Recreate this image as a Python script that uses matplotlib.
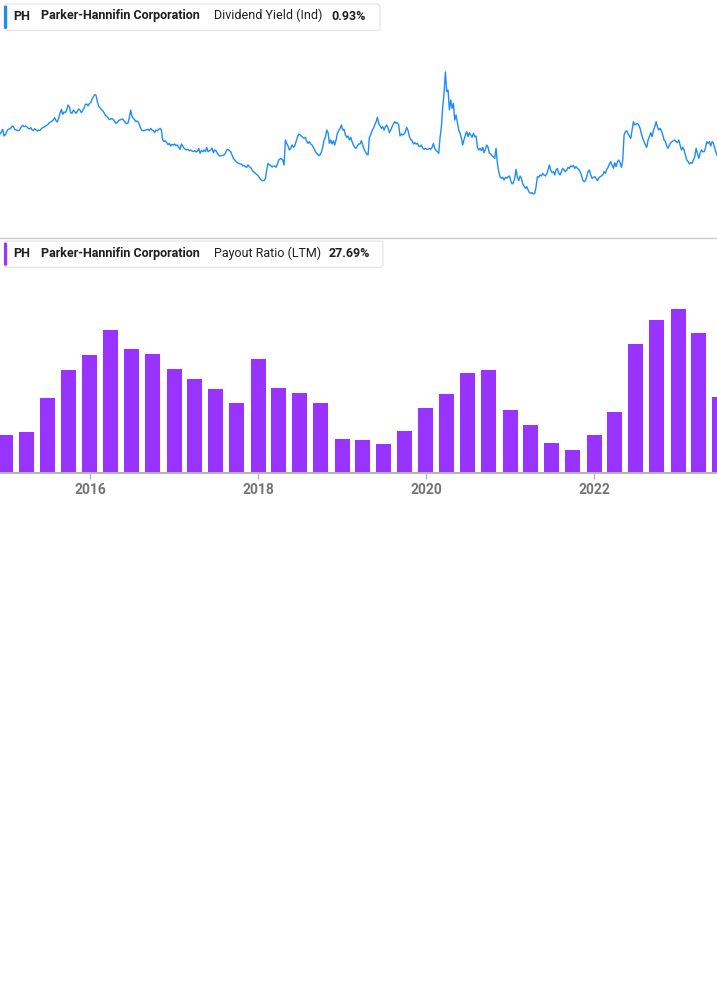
import matplotlib
matplotlib.use("Agg")
import matplotlib.pyplot as plt
import numpy as np
import pandas as pd
from matplotlib.patches import FancyBboxPatch
from matplotlib.lines import Line2D
from matplotlib.transforms import IdentityTransform

plt.rcParams['font.family'] = ['Roboto', 'DejaVu Sans']

# ---------------- data ----------------
ticker = "PH"
company = "Parker-Hannifin Corporation"
metric_top = "Dividend Yield (Ind)"
latest_top = "0.93%"
metric_bottom = "Payout Ratio (LTM)"
latest_bottom = "27.69%"

# quarterly payout ratio (%), quarters starting 2015-01-01
payout_start = "2015-01-01"
payout_ratio = [26.5, 27.0, 32.9, 37.6, 40.3, 44.5, 41.3, 40.5, 37.8, 36.1,
                34.4, 32.1, 39.6, 34.6, 33.7, 32.0, 25.8, 25.6, 24.9, 27.2,
                31.2, 33.6, 37.1, 37.6, 30.9, 28.3, 25.1, 24.0, 26.5, 30.4,
                42.2, 46.2, 48.2, 44.0, 33.0]

# dividend yield in basis points, sampled about every 5.8 days from 2014-12-06
yield_start = "2014-12-06"
yield_step_days = 5.798
yield_bp = [
    199, 202, 206, 196, 198, 202.5, 206, 206.5, 207.5, 211,
    210, 206, 205, 204.5, 204, 206, 210, 212, 210, 211,
    210, 208, 206.5, 208.5, 205.5, 204, 207, 205, 203.5, 205,
    204, 207, 208.5, 209.5, 210.5, 212, 213.5, 216, 217, 218.5,
    220, 223.5, 219, 217, 222.5, 230, 236, 228.5, 232, 231,
    235, 242.5, 240, 231, 230, 235, 232.5, 230, 233, 236.5,
    235, 231, 234, 238, 243, 244, 241, 244.5, 246, 251,
    255, 258, 257, 247.5, 240.5, 238.5, 235.5, 234, 231, 227,
    225.5, 223.5, 220.5, 221.5, 222, 220.5, 218, 215, 216, 219.5,
    220, 221, 221.5, 218.5, 216, 214.5, 215.5, 224, 235, 225,
    222.5, 220, 217.5, 218.5, 216, 210, 205, 204, 204, 205,
    205, 206, 204, 207.5, 205, 204, 201, 205, 204, 206,
    207.5, 205, 190, 187.5, 189, 186, 183, 185, 181, 183.5,
    182.5, 184, 181.5, 182.5, 179, 176,
    184, 181, 177.5, 176, 175, 176, 174, 175, 173.5, 172.5,
    174, 172, 173, 177.5, 170, 174, 172.5, 175, 172.5, 179,
    172.5, 174, 175, 178, 171, 175, 174, 170, 167.5, 166,
    166.5, 167, 167.5, 170, 175, 176, 174, 172.5, 167.5, 162.5,
    160, 157.5, 156, 155, 154, 154, 151, 152, 150, 149,
    152.5, 150, 148.5, 145, 142.5, 141, 139, 137.5, 135, 132,
    130, 129, 129, 132, 145, 155, 152.5, 152, 149.5, 151,
    151, 149, 154, 160, 161.5, 162, 160, 152.5, 190, 185,
    181, 175, 177.5, 182.5, 179, 181, 187.5, 194, 199, 197.5,
    196, 194, 192.5, 194, 188, 185, 187.5, 184, 182.5, 179,
    175, 171, 169, 166.5, 168, 172, 179, 190, 194, 205,
    201, 185, 190, 184, 189, 182.5, 190, 200, 204, 207.5,
    212.5, 205, 206, 197.5, 194, 196, 190, 194, 187.5, 182.5,
    179, 177.5, 181, 184,
    184, 189, 182.5, 176, 172.5, 169, 167.5, 194, 197.5, 204,
    207.5, 212.5, 217, 224, 215, 211, 207.5, 210, 205, 210,
    212.5, 207.5, 201, 205, 210, 214, 217.5, 215, 216, 212.5,
    196, 199, 197.5, 199, 202.5, 209, 204, 195, 191, 189,
    184, 186, 184, 185, 181, 180, 182.5, 177.5, 176, 177.5,
    176, 176, 177.5, 176, 179, 185, 177.5, 174, 172.5, 170,
    194, 210, 240, 260, 292, 262.5, 265, 235, 250, 237.5,
    245, 220, 227.5, 216, 205, 200, 192.5, 182.5, 191, 197.5,
    202.5, 195, 201, 197.5, 194, 200, 195, 196, 179, 175,
    177.5, 174, 179, 171, 176, 182.5, 179, 170, 169, 166,
    165, 162.5, 177.5, 155, 142.5, 135, 132.5, 134, 130, 134,
    132.5, 135, 136, 129, 124, 126, 132.5, 146, 134, 129,
    136, 132.5, 124, 121, 117.5, 120, 115, 111, 110, 111,
    109, 110, 120,
    135, 134, 137.5, 136, 140, 137.5, 136, 139, 145, 152.5,
    145, 141, 142.5, 137.5, 145, 147.5, 140, 137.5, 142.5, 147.5,
    145, 142.5, 145, 149, 147.5, 151, 150, 152, 147.5, 150,
    147.5, 146, 142.5, 137.5, 130, 127.5, 129, 135, 142.5, 145,
    137.5, 132.5, 134, 135, 132.5, 129, 132.5, 135, 136, 137.5,
    142.5, 140, 146, 149, 154, 157.5, 152.5, 147.5, 156, 150,
    157.5, 160, 156, 149, 160, 197.5, 202.5, 204, 199, 196,
    192.5, 205, 217.5, 212.5, 214, 215, 212.5, 207.5, 199, 192.5,
    187.5, 182.5, 179, 190, 195, 201, 195, 204, 210, 217.5,
    210, 205, 207.5, 204, 197.5, 190, 187.5, 181, 177.5, 182.5,
    186, 187.5, 189, 190, 187.5, 186, 190, 182.5, 175, 179,
    175, 167.5, 160, 157.5, 154, 156, 155, 160, 165, 177.5,
    170, 162.5, 170, 175, 172.5, 172.5, 177.5, 187.5, 185, 187.5,
    181, 187.5, 185, 177.5, 171, 166,
]
year_ticks = [2016, 2018, 2020, 2022]

# ---------------- styling ----------------
W, H = 717, 1005
BLUE = "#1e8cf7"
PURPLE = "#9933ff"
TXT = "#1f1f1f"
GREY_TXT = "#737373"
AXIS_GREY = "#b3b3b3"

xmin = pd.Timestamp("2014-12-05 22:00")
xmax = pd.Timestamp("2023-06-19 12:00")

fig = plt.figure(figsize=(W / 100, H / 100), dpi=100)
fig.patch.set_facecolor("white")

# ---- top panel: dividend yield line ----
yield_dates = pd.Timestamp(yield_start) + pd.to_timedelta(np.arange(len(yield_bp)) * yield_step_days, unit="D")
yield_pct = np.array(yield_bp) / 100.0

ax1 = fig.add_axes([0, 1 - 237 / H, 1, 237 / H])
ax1.plot(yield_dates, yield_pct, color=BLUE, lw=1.0, solid_joinstyle="round")
ax1.set_xlim(xmin, xmax)
ax1.set_ylim(0.445, 4.0)
ax1.axis("off")

# separator line
fig.add_artist(Line2D([0, W], [H - 237.5, H - 237.5], color="#cccccc", lw=1.0,
                      transform=IdentityTransform()))

# ---- bottom panel: payout ratio bars ----
bar_dates = pd.date_range(payout_start, periods=len(payout_ratio), freq="QS")
ax2 = fig.add_axes([0, 1 - 473 / H, 1, (473 - 238) / H])
ax2.patch.set_alpha(0)
ax2.bar(bar_dates, payout_ratio, width=65.2, color=PURPLE, align="center")
ax2.set_xlim(xmin, xmax)
ax2.set_ylim(20, 20 + 235 * 40 / 233)
for s in ["top", "left", "right"]:
    ax2.spines[s].set_visible(False)
ax2.spines["bottom"].set_color(AXIS_GREY)
ax2.spines["bottom"].set_linewidth(1.4)
ax2.set_yticks([])
ax2.set_xticks([pd.Timestamp(f"{y}-01-01") for y in year_ticks])
ax2.set_xticklabels([str(y) for y in year_ticks])
ax2.tick_params(axis="x", length=4, width=1.0, color=AXIS_GREY, pad=3,
                labelsize=10, labelcolor=GREY_TXT)
for lab in ax2.get_xticklabels():
    lab.set_fontweight("bold")

# ---- legend boxes ----
def legend_box(y0, y1, x1, color, metric, value, value_x, baseline):
    box = FancyBboxPatch((4, H - y1), x1 - 4, y1 - y0,
                         boxstyle="round,pad=0,rounding_size=3",
                         fc="white", ec="#e4e4e4", lw=0.8,
                         transform=IdentityTransform(), zorder=5)
    fig.add_artist(box)
    bar = FancyBboxPatch((4, H - y1 + 1.5), 3.2, y1 - y0 - 3,
                         boxstyle="round,pad=0,rounding_size=1.5",
                         fc=color, ec="none", transform=IdentityTransform(), zorder=6)
    fig.add_artist(bar)
    yb = 1 - baseline / H
    fs = 9.0
    fig.text(13.3 / W, yb, ticker, fontsize=fs, fontweight="bold", color=TXT, va="baseline", zorder=7)
    fig.text(40.7 / W, yb, company, fontsize=fs, fontweight="bold", color=TXT, va="baseline", zorder=7)
    fig.text(214.3 / W, yb, metric, fontsize=fs, fontweight="normal", color=TXT, va="baseline", zorder=7)
    fig.text(value_x / W, yb, value, fontsize=fs, fontweight="bold", color=TXT, va="baseline", zorder=7)

legend_box(4, 30.5, 380, BLUE, metric_top, latest_top, 331.0, 19.5)
legend_box(241, 267.3, 383, PURPLE, metric_bottom, latest_bottom, 328.3, 257.3)

fig.savefig("out.png", dpi=100)
